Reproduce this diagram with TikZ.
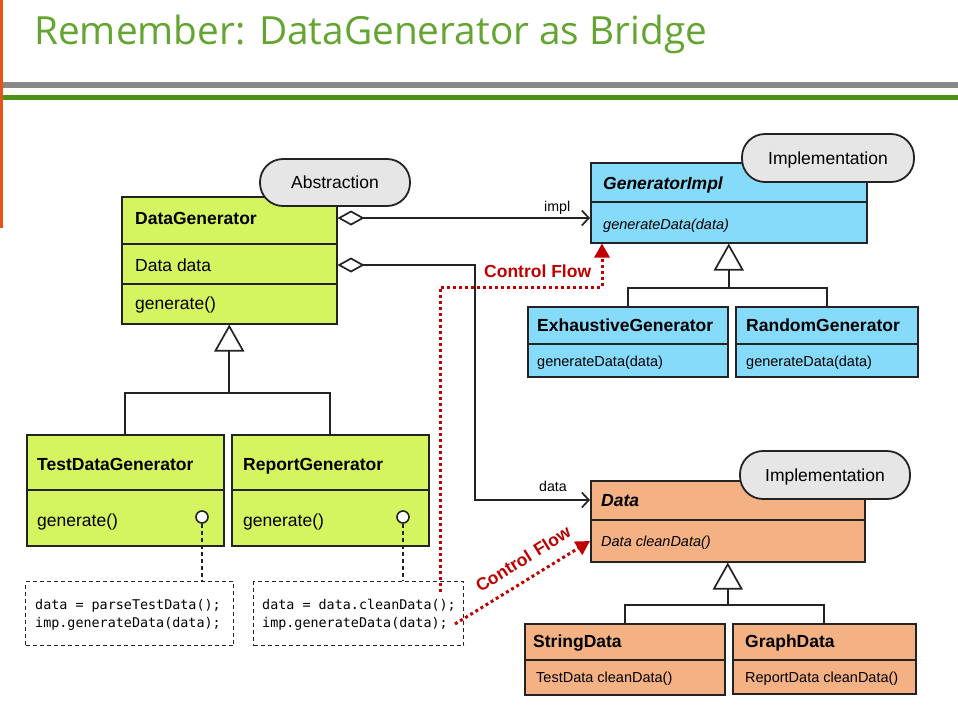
\documentclass[tikz,border=0pt]{standalone}
\usepackage{fontspec}
\setmainfont{Liberation Sans}
\newfontfamily\titlefont{Open Sans}
\newfontfamily\codefont{DejaVu Sans Mono}
\usetikzlibrary{arrows.meta,shapes.misc}

\definecolor{edge}{RGB}{35,35,35}
\definecolor{limefill}{RGB}{212,245,96}
\definecolor{bluefill}{RGB}{135,219,250}
\definecolor{orangefill}{RGB}{244,177,131}
\definecolor{bubblegray}{RGB}{230,230,230}
\definecolor{flowred}{RGB}{192,0,0}
\definecolor{titlegreen}{RGB}{100,165,50}
\definecolor{rulegreen}{RGB}{76,146,22}
\definecolor{rulegray}{RGB}{136,136,136}
\definecolor{sidebar}{RGB}{228,84,24}

\begin{document}
\begin{tikzpicture}[x=1pt,y=-1pt,
  classbox/.style={draw=edge, line width=1.5pt, anchor=north west, inner sep=0pt},
  divider/.style={draw=edge, line width=1.5pt},
  nametxt/.style={anchor=base west, inner sep=0pt, font=\fontsize{17.5}{21}\selectfont\bfseries},
  nameital/.style={anchor=base west, inner sep=0pt, font=\fontsize{17.5}{21}\selectfont\bfseries\itshape},
  attrtxt/.style={anchor=base west, inner sep=0pt, font=\fontsize{17.5}{21}\selectfont},
  optxt/.style={anchor=base west, inner sep=0pt, font=\fontsize{14.5}{17}\selectfont},
  opital/.style={anchor=base west, inner sep=0pt, font=\fontsize{14.5}{17}\selectfont\itshape},
  rolelbl/.style={anchor=base west, inner sep=0pt, font=\fontsize{14.2}{17}\selectfont},
  bubble/.style={draw=edge, fill=bubblegray, line width=1.8pt, rounded corners=23pt,
    inner sep=0pt, text height=12.5pt, text depth=0pt, font=\fontsize{17.5}{21}\selectfont},
  wire/.style={draw=edge, line width=1.7pt},
  aggr/.style={wire, {Diamond[length=27pt,width=15pt,fill=white]}-{Straight Barb[length=7pt,width=15pt]}},
  generalize/.style={wire, -{Triangle[open,length=27pt,width=30pt]}},
  opendot/.style={circle, draw=edge, fill=white, line width=1.6pt, minimum size=12pt, inner sep=0pt},
  notelink/.style={draw=edge, line width=1.3pt, dash pattern=on 4pt off 3pt},
  codebox/.style={draw=edge, line width=1.3pt, dash pattern=on 4pt off 3pt, anchor=north west, inner sep=0pt},
  codetxt/.style={anchor=base west, inner sep=0pt, font=\codefont\fontsize{13.4}{16}\selectfont},
  flow/.style={draw=flowred, line width=3pt, dash pattern=on 3pt off 3pt, -{Triangle[length=14pt,width=15pt]}},
  flowlbl/.style={text=flowred, inner sep=0pt, font=\fontsize{17.5}{21}\selectfont\bfseries}
]
\useasboundingbox (0,0) rectangle (958,704);

% header: title and rules
\node[anchor=base west, inner sep=0pt, text=titlegreen,
      font=\titlefont\fontsize{38.8}{46}\selectfont] (title) at (34,44) {Remember: DataGenerator as Bridge};
\fill[rulegray] (0,82) rectangle (958,88);
\fill[rulegreen] (0,95) rectangle (958,100);
\fill[sidebar] (0,0) rectangle (3,228);

% ---------- abstraction side ----------
\node[classbox, fill=limefill, minimum width=215pt, minimum height=127pt] (dg) at (121,196) {};
\draw[divider] (121,244) -- (336,244);
\draw[divider] (121,284) -- (336,284);
\node[nametxt] (dgname) at (135,224) {DataGenerator};
\node[attrtxt] (dgattr) at (135,271) {Data data};
\node[attrtxt] (dgop) at (135,309) {generate()};
\node[bubble, minimum width=150pt, minimum height=47pt] (absb) at (335,182.5) {Abstraction};

\node[classbox, fill=limefill, minimum width=197pt, minimum height=111pt] (tdg) at (26,434) {};
\draw[divider] (26,490) -- (223,490);
\node[nametxt] (tdgname) at (37,470) {TestDataGenerator};
\node[attrtxt] (tdgop) at (37,526) {generate()};
\node[opendot] (tdgdot) at (202,517) {};

\node[classbox, fill=limefill, minimum width=197pt, minimum height=111pt] (rg) at (231,434) {};
\draw[divider] (231,490) -- (428,490);
\node[nametxt] (rgname) at (243,470) {ReportGenerator};
\node[attrtxt] (rgop) at (243,526) {generate()};
\node[opendot] (rgdot) at (403,517) {};

\draw[wire] (tdg.north) -- (tdg.north |- 0,393) -- (rg.north |- 0,393) -- (rg.north);
\draw[generalize] (dg.south |- 0,393) -- (dg.south);

% code notes
\node[codebox, minimum width=208pt, minimum height=64pt] (note1) at (25,581) {};
\node[codetxt] (note1a) at (35,609) {data = parseTestData();};
\node[codetxt] (note1b) at (35,627) {imp.generateData(data);};
\node[codebox, minimum width=210pt, minimum height=64pt] (note2) at (253,581) {};
\node[codetxt] (note2a) at (262,609) {data = data.cleanData();};
\node[codetxt] (note2b) at (262,627) {imp.generateData(data);};
\draw[notelink] (tdgdot.south) -- (tdgdot |- note1.north);
\draw[notelink] (rgdot.south) -- (rgdot |- note2.north);

% ---------- implementation: generators ----------
\node[classbox, fill=bluefill, minimum width=276pt, minimum height=80pt] (gi) at (590,162) {};
\draw[divider] (590,202) -- (866,202);
\node[nameital] (giname) at (603,189) {GeneratorImpl};
\node[opital] (giop) at (603,229) {generateData(data)};
\node[bubble, minimum width=172pt, minimum height=48pt] (implb1) at (828,158) {Implementation};

\node[classbox, fill=bluefill, minimum width=200pt, minimum height=70pt] (eg) at (527,306) {};
\draw[divider] (527,344) -- (727,344);
\node[nametxt] (egname) at (537,331) {ExhaustiveGenerator};
\node[optxt] (egop) at (537,366) {generateData(data)};

\node[classbox, fill=bluefill, minimum width=182pt, minimum height=70pt] (rgen) at (735,306) {};
\draw[divider] (735,344) -- (917,344);
\node[nametxt] (rgenname) at (746,331) {RandomGenerator};
\node[optxt] (rgenop) at (746,366) {generateData(data)};

\draw[wire] (eg.north) -- (eg.north |- 0,288) -- (rgen.north |- 0,288) -- (rgen.north);
\draw[generalize] (gi.south |- 0,288) -- (gi.south);

% ---------- implementation: data ----------
\node[classbox, fill=orangefill, minimum width=274pt, minimum height=81pt] (da) at (590,480) {};
\draw[divider] (590,520) -- (864,520);
\node[nameital] (daname) at (601,506) {Data};
\node[opital] (daop) at (601,546) {Data cleanData()};
\node[bubble, minimum width=170pt, minimum height=48pt] (implb2) at (825,475) {Implementation};

\node[classbox, fill=orangefill, minimum width=200pt, minimum height=71pt] (sd) at (524,623) {};
\draw[divider] (524,660) -- (724,660);
\node[nametxt] (sdname) at (533,647) {StringData};
\node[optxt] (sdop) at (536,682) {TestData cleanData()};

\node[classbox, fill=orangefill, minimum width=183pt, minimum height=70pt] (gd) at (732,623) {};
\draw[divider] (732,660) -- (915,660);
\node[nametxt] (gdname) at (745,647) {GraphData};
\node[optxt] (gdop) at (745,682) {ReportData cleanData()};

\draw[wire] (sd.north) -- (sd.north |- 0,605) -- (gd.north |- 0,605) -- (gd.north);
\draw[generalize] (da.south |- 0,605) -- (da.south);

% ---------- associations ----------
\draw[aggr] (dg.east |- 0,218) -- (gi.west |- 0,218);
\node[rolelbl] (impllbl) at (544,211) {impl};
\draw[aggr] (dg.east |- 0,265) -- (475,265) -- (475,500) -- (da.west |- 0,500);
\node[rolelbl] (datalbl) at (539,491) {data};

% ---------- control flow ----------
\coordinate (flow1start) at (440,592);
\draw[flow] (flow1start) -- (440,287) -- (602,287) -- (gi.south -| 602,0);
\node[flowlbl, anchor=base west] (flowlbl1) at (484,277) {Control Flow};

\coordinate (flow2start) at (455,624);
\draw[flow] (flow2start) -- (da.west |- 0,541);
\node[flowlbl, rotate=32] (flowlbl2) at (523,559) {Control\hspace{6pt}Flow};

\end{tikzpicture}
\end{document}
